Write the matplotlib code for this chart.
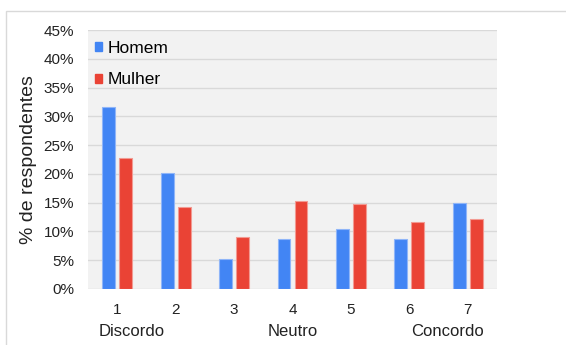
import matplotlib
matplotlib.use("Agg")
import matplotlib.pyplot as plt
import numpy as np
from matplotlib.patches import Patch, Rectangle

categories = ["1", "2", "3", "4", "5", "6", "7"]
homem = [31.7, 20.2, 5.2, 8.7, 10.4, 8.7, 15.0]
mulher = [22.7, 14.3, 9.0, 15.3, 14.8, 11.7, 12.2]
yticks = [0, 5, 10, 15, 20, 25, 30, 35, 40, 45]
scale_labels = [("Discordo", 0.25), ("Neutro", 3.0), ("Concordo", 5.65)]

plt.rcParams['font.family'] = ['Liberation Sans', 'DejaVu Sans']

fig = plt.figure(figsize=(5.66, 3.45), dpi=100)
ax = fig.add_axes([88/566, 1-289/345, (497-88)/566, (289-30)/345])

blue = "#4285f4"
red = "#ea4335"
x = np.arange(len(categories))
w = 0.22
off = 0.145
ax.bar(x - off, homem, w, color=blue, edgecolor="#8fb5f8", linewidth=0.8, zorder=3)
ax.bar(x + off, mulher, w, color=red, edgecolor="#f29a92", linewidth=0.8, zorder=3)

ax.set_facecolor("#f2f2f2")
ax.set_xlim(-0.5, len(categories) - 0.5)
ax.set_ylim(0, 45)
ax.set_yticks(yticks)
ax.set_yticklabels([f"{v}%" for v in yticks], fontsize=11, color="#222222")
ax.set_xticks(x)
ax.set_xticklabels(categories, fontsize=11, color="#222222")
ax.tick_params(axis="both", length=0, pad=10)
ax.grid(axis="y", color="#d9d9d9", linewidth=1, zorder=0)
ax.set_axisbelow(True)
for s in ax.spines.values():
    s.set_visible(False)

ax.set_ylabel("% de respondentes", fontsize=14, color="#222222", labelpad=5)

for lab, xp in scale_labels:
    ax.text(xp, -0.165, lab, transform=ax.get_xaxis_transform(), ha="center", va="center",
            fontsize=12, color="#222222")

handles = [Patch(facecolor=blue, edgecolor=blue), Patch(facecolor=red, edgecolor=red)]
leg = ax.legend(handles, ["Homem", "Mulher"], loc="upper left", bbox_to_anchor=(0.0, 0.985),
                frameon=False, fontsize=12.5, handlelength=0.42, handleheight=0.42,
                handletextpad=0.3, labelspacing=0.95, borderaxespad=0.0)

fig.patches.append(Rectangle((6/566, -0.1), 1.2, 1 - 11/345 + 0.1, transform=fig.transFigure,
                             fill=False, edgecolor="#d9d9d9", linewidth=1))

fig.savefig("out.png", dpi=100)
